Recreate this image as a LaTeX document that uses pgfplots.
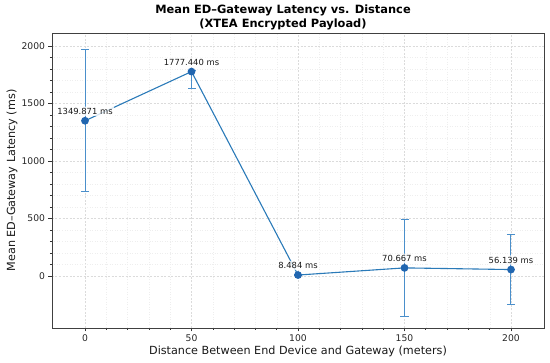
\documentclass[border=0pt]{standalone}
\usepackage{pgfplots}
\pgfplotsset{compat=1.18}
\usetikzlibrary{calc}
\usepackage{fontspec}
\setmainfont{DejaVu Sans}
\definecolor{lineblue}{HTML}{2A7AB8}
\definecolor{markblue}{HTML}{2166B0}
\definecolor{errblue}{HTML}{4A8FCB}
\begin{document}
\begin{tikzpicture}
\begin{axis}[
  name=ax,
  scale only axis,
  width=492pt, height=295pt,
  xmin=-15.5, xmax=215.5,
  ymin=-452, ymax=2113,
  xtick={0,50,100,150,200},
  ytick={0,500,1000,1500,2000},
  minor x tick num=4,
  minor y tick num=4,
  tick align=outside,
  tick pos=left,
  major tick length=3.5pt,
  minor tick length=2pt,
  tick style={black!80, line width=0.6pt},
  grid=both,
  major grid style={gray!28, dash pattern=on 2pt off 1.5pt, line width=0.45pt},
  minor grid style={gray!13, dash pattern=on 1pt off 1.5pt, line width=0.35pt},
  axis line style={black!75, line width=0.8pt},
  /pgf/number format/assume math mode=true,
  /pgf/number format/1000 sep={},
  ticklabel style={font=\fontsize{9.2}{11}\selectfont, text=black!85},
  xlabel={Distance Between End Device and Gateway (meters)},
  ylabel={Mean ED–Gateway Latency (ms)},
  label style={font=\fontsize{11.2}{13}\selectfont, text=black!90},
  xlabel style={at={(axis description cs:0.5,-0.081)}, anchor=center},
  ylabel style={at={(axis description cs:-0.081,0.5)}, anchor=center},
  nodes near coords,
  point meta=explicit symbolic,
  every node near coord/.style={font=\fontsize{8.4}{10}\selectfont, text=black!90, anchor=base, yshift=6.5pt, fill=white, fill opacity=0.8, text opacity=1, inner sep=1.5pt, rounded corners=1pt},
]
\addplot[
  color=lineblue, line width=1.1pt,
  mark=*, mark size=3.3pt, mark options={fill=markblue, draw=markblue},
  error bars/.cd, y dir=both, y explicit,
  error bar style={color=errblue, line width=1pt},
  error mark options={rotate=90, mark size=4pt, color=errblue, line width=1pt},
] coordinates {
  (0,1349.871) += (0,617) -= (0,617) [1349.871 ms]
  (50,1777.440) += (0,12) -= (0,143) [1777.440 ms]
  (100,8.484) += (0,2) -= (0,2) [8.484 ms]
  (150,70.667) += (0,424) -= (0,424) [70.667 ms]
  (200,56.139) += (0,302) -= (0,302) [56.139 ms]
};
\end{axis}
\node[font=\bfseries\fontsize{11.4}{13.2}\selectfont, align=center, anchor=center]
  at ($(ax.north west)!0.4695!(ax.north east)+(0,15.5pt)$) {Mean ED–Gateway Latency vs. Distance\\(XTEA Encrypted Payload)};
\pgfresetboundingbox
\useasboundingbox ([xshift=-52pt,yshift=-35pt]ax.south west) rectangle ([xshift=6pt,yshift=33pt]ax.north east);
\end{tikzpicture}
\end{document}
